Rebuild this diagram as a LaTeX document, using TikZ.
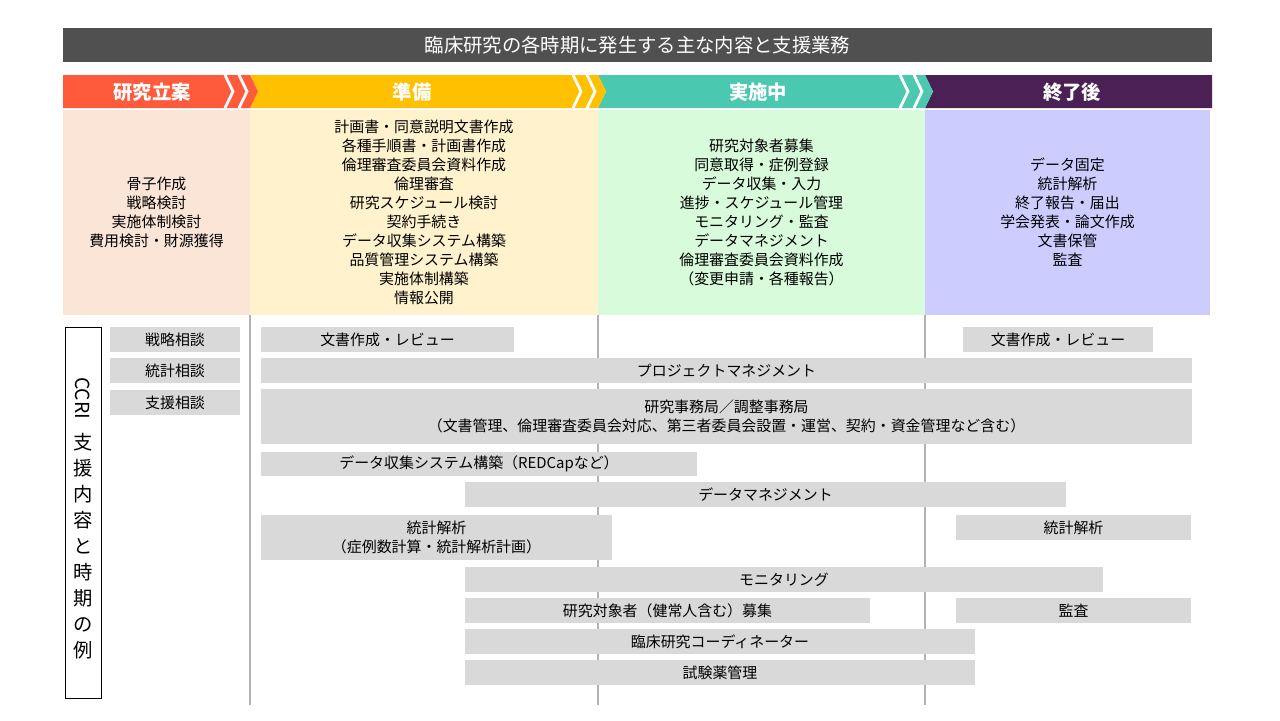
\documentclass[tikz,border=0pt]{standalone}
\usepackage{fontspec}
\setmainfont{Noto Sans CJK JP}
\usetikzlibrary{fit}
\definecolor{titlec}{HTML}{505050}
\definecolor{redc}{HTML}{FF5A3C}
\definecolor{yellowc}{HTML}{FFC000}
\definecolor{tealc}{HTML}{4BC8B0}
\definecolor{purplec}{HTML}{4B2155}
\definecolor{peachc}{HTML}{FBE5D6}
\definecolor{creamc}{HTML}{FFF2CC}
\definecolor{greenc}{HTML}{D8FCDB}
\definecolor{lavc}{HTML}{CCCCFF}
\definecolor{barc}{HTML}{D9D9D9}
\tikzset{
  bar/.style={fill=barc, inner sep=0pt},
  panel/.style={inner sep=0pt},
  txt/.style={align=center, font=\fontsize{8.5}{10.8}\selectfont},
  phase/.style={text=white, font=\fontsize{11}{13}\selectfont\bfseries},
  chev/.style={white, line width=1.6pt}
}
\begin{document}
\begin{tikzpicture}[x=0.02cm, y=-0.02cm]
  \useasboundingbox (0,0) rectangle (1280,720);

  % Title
  \node[fill=titlec, inner sep=0pt, fit={(63,28) (1212,62)}] (title) {};
  \node[text=white, font=\fontsize{11}{13}\selectfont] at (title.center) {臨床研究の各時期に発生する主な内容と支援業務};

  % Phase arrows
  \fill[purplec] (925,75) -- (1212,75) -- (1212,108) -- (925,108) -- (933,91.5) -- cycle;
  \fill[tealc] (598,75) -- (925,75) -- (933,91.5) -- (925,108) -- (598,108) -- (606,91.5) -- cycle;
  \fill[yellowc] (250,75) -- (598,75) -- (606,91.5) -- (598,108) -- (250,108) -- (258,91.5) -- cycle;
  \fill[redc] (63,75) -- (250,75) -- (258,91.5) -- (250,108) -- (63,108) -- cycle;
  \foreach \x in {225,239, 573,587, 900,914}
    \draw[chev] (\x,75) -- (\x+8,91.5) -- (\x,108);
  \node[phase] (ph1) at (152,92) {研究立案};
  \node[phase] (ph2) at (412,92) {準備};
  \node[phase] (ph3) at (758,92) {実施中};
  \node[phase] (ph4) at (1072,92) {終了後};

  % Panels
  \node[panel, fill=peachc, fit={(63,110) (250,315)}] (p1) {};
  \node[panel, fill=creamc, fit={(250,110) (598,315)}] (p2) {};
  \node[panel, fill=greenc, fit={(598,110) (925,315)}] (p3) {};
  \node[panel, fill=lavc, fit={(925,110) (1210,315)}] (p4) {};
  \node[txt] at (p1.center) {骨子作成\\戦略検討\\実施体制検討\\費用検討・財源獲得};
  \node[txt] at (p2.center) {計画書・同意説明文書作成\\各種手順書・計画書作成\\倫理審査委員会資料作成\\倫理審査\\研究スケジュール検討\\契約手続き\\データ収集システム構築\\品質管理システム構築\\実施体制構築\\情報公開};
  \node[txt] at (p3.center) {研究対象者募集\\同意取得・症例登録\\データ収集・入力\\進捗・スケジュール管理\\モニタリング・監査\\データマネジメント\\倫理審査委員会資料作成\\（変更申請・各種報告）};
  \node[txt] at (p4.center) {データ固定\\統計解析\\終了報告・届出\\学会発表・論文作成\\文書保管\\監査};

  % Divider lines
  \foreach \x in {250,598,925}
    \draw[gray!60, line width=0.6pt] (\x,315) -- (\x,705);

  % Side label
  \node[draw=black, inner sep=0pt, fit={(65,327) (101,698)}] (side) {};
  \node[rotate=-90, font=\fontsize{11}{13}\selectfont] (ccri) at (83,398) {CCRI};
  \node[align=center, font=\fontsize{11}{14.8}\selectfont, anchor=north] at (83,427) {支\\援\\内\\容\\と\\時\\期\\の\\例};

  % Support bars
  \node[bar, fit={(110,327) (240,352)}, label={[txt]center:戦略相談}] (sen) {};
  \node[bar, fit={(110,358) (240,383)}, label={[txt]center:統計相談}] (tou) {};
  \node[bar, fit={(110,390) (240,415)}, label={[txt]center:支援相談}] (shi) {};
  \node[bar, fit={(261,327) (514,352)}, label={[txt]center:文書作成・レビュー}] (docA) {};
  \node[bar, fit={(963,327) (1153,352)}, label={[txt]center:文書作成・レビュー}] (docB) {};
  \node[bar, fit={(261,358) (1192,383)}, label={[txt]center:プロジェクトマネジメント}] (pm) {};
  \node[bar, fit={(261,389) (1192,444)}, label={[txt]center:{研究事務局／調整事務局\\（文書管理、倫理審査委員会対応、第三者委員会設置・運営、契約・資金管理など含む）}}] (office) {};
  \node[bar, fit={(261,452) (697,476)}, label={[txt]center:データ収集システム構築（REDCapなど）}] (edc) {};
  \node[bar, fit={(465,482) (1066,507)}, label={[txt]center:データマネジメント}] (dm) {};
  \node[bar, fit={(261,515) (612,560)}, label={[txt]center:{統計解析\\（症例数計算・統計解析計画）}}] (statA) {};
  \node[bar, fit={(956,515) (1191,540)}, label={[txt]center:統計解析}] (statB) {};
  \node[bar, fit={(465,567) (1103,592)}, label={[txt]center:モニタリング}] (mon) {};
  \node[bar, fit={(465,598) (870,623)}, label={[txt]center:研究対象者（健常人含む）募集}] (recr) {};
  \node[bar, fit={(956,598) (1191,623)}, label={[txt]center:監査}] (audit) {};
  \node[bar, fit={(465,629) (975,654)}, label={[txt]center:臨床研究コーディネーター}] (crc) {};
  \node[bar, fit={(465,660) (975,685)}, label={[txt]center:試験薬管理}] (drug) {};
\end{tikzpicture}
\end{document}
